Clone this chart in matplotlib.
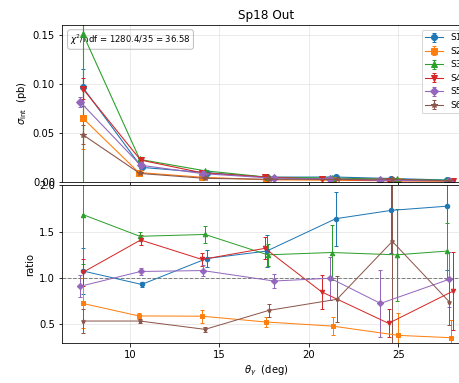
import matplotlib
matplotlib.use("Agg")
import matplotlib.pyplot as plt

# angle bins (deg), one slightly shifted set per series
theta_s1 = [7.37, 10.66, 14.30, 17.64, 21.50, 24.60, 27.70]
theta_s2 = [7.37, 10.50, 14.03, 17.58, 21.33, 25.00, 27.94]
theta_s3 = [7.37, 10.56, 14.20, 17.70, 21.27, 24.90, 27.70]
theta_s4 = [7.37, 10.60, 14.03, 17.55, 20.71, 24.45, 28.07]
theta_s5 = [7.23, 10.60, 14.08, 18.05, 21.20, 24.00, 27.83]
theta_s6 = [7.37, 10.56, 14.20, 17.77, 21.57, 24.66, 27.83]

# integrated cross section (pb)
sig_s1 = [0.0965, 0.0145, 0.0091, 0.0045, 0.0046, 0.0031, 0.0016]
sig_s2 = [0.0650, 0.0092, 0.0044, 0.0018, 0.0013, 0.0007, 0.0003]
sig_s3 = [0.1515, 0.0226, 0.0110, 0.0044, 0.0036, 0.0023, 0.0012]
sig_s4 = [0.0952, 0.0220, 0.0090, 0.0046, 0.0024, 0.0009, 0.0008]
sig_s5 = [0.0814, 0.0167, 0.0081, 0.0034, 0.0028, 0.0013, 0.0009]
sig_s6 = [0.0480, 0.0083, 0.0033, 0.0023, 0.0022, 0.0025, 0.0007]

sig_err_s1 = [0.019, 0.001, 0.0008, 0.0005, 0.0007, 0.0008, 0.0006]
sig_err_s2 = [0.032, 0.001, 0.0005, 0.0002, 0.0003, 0.0004, 0.0002]
sig_err_s3 = [0.170, 0.001, 0.0008, 0.0005, 0.0008, 0.0009, 0.0003]
sig_err_s4 = [0.011, 0.001, 0.0006, 0.0004, 0.0005, 0.0003, 0.0004]
sig_err_s5 = [0.005, 0.001, 0.0005, 0.0003, 0.0006, 0.0006, 0.0003]
sig_err_s6 = [0.010, 0.0005, 0.0003, 0.0003, 0.0006, 0.0020, 0.0003]

# ratio to reference
ratio_s1 = [1.076, 0.93, 1.21, 1.29, 1.64, 1.73, 1.775]
ratio_s2 = [0.725, 0.59, 0.587, 0.525, 0.48, 0.38, 0.355]
ratio_s3 = [1.685, 1.45, 1.47, 1.25, 1.275, 1.25, 1.29]
ratio_s4 = [1.06, 1.41, 1.20, 1.32, 0.85, 0.51, 0.86]
ratio_s5 = [0.91, 1.07, 1.08, 0.967, 0.997, 0.725, 0.985]
ratio_s6 = [0.535, 0.535, 0.445, 0.65, 0.77, 1.395, 0.745]

ratio_err_s1 = [0.25, 0.03, 0.09, 0.17, 0.29, 0.46, 0.69]
ratio_err_s2 = [0.27, 0.03, 0.07, 0.05, 0.10, 0.24, 0.19]
ratio_err_s3 = [0.53, 0.05, 0.09, 0.12, 0.30, 0.50, 0.30]
ratio_err_s4 = [0.15, 0.05, 0.07, 0.12, 0.18, 0.15, 0.42]
ratio_err_s5 = [0.12, 0.04, 0.06, 0.08, 0.23, 0.36, 0.30]
ratio_err_s6 = [0.13, 0.02, 0.03, 0.07, 0.25, 1.30, 0.25]

labels = ["S1", "S2", "S3", "S4", "S5", "S6"]
markers = ["o", "s", "^", "v", "D", "*"]
colors = ["C0", "C1", "C2", "C3", "C4", "C5"]

sig_ticks = [0.0, 0.05, 0.10, 0.15]
ratio_ticks = [0.5, 1.0, 1.5, 2.0]

thetas = [theta_s1, theta_s2, theta_s3, theta_s4, theta_s5, theta_s6]
sigmas = [sig_s1, sig_s2, sig_s3, sig_s4, sig_s5, sig_s6]
sig_errs = [sig_err_s1, sig_err_s2, sig_err_s3, sig_err_s4, sig_err_s5, sig_err_s6]
ratios = [ratio_s1, ratio_s2, ratio_s3, ratio_s4, ratio_s5, ratio_s6]
ratio_errs = [ratio_err_s1, ratio_err_s2, ratio_err_s3, ratio_err_s4, ratio_err_s5, ratio_err_s6]

fig = plt.figure(figsize=(459 / 72, 383 / 72), dpi=72)
ax_top = fig.add_axes([0.135, 0.526, 0.889, 0.408])
ax_bot = fig.add_axes([0.135, 0.105, 0.889, 0.411], sharex=ax_top)

for th, s, se, lab, m, c in zip(thetas, sigmas, sig_errs, labels, markers, colors):
    ax_top.errorbar(th, s, yerr=se, marker=m, color=c, label=lab, lw=1.1,
                    ms=6, capsize=2, elinewidth=1.1, ecolor=c)

for th, r, re, m, c in zip(thetas, ratios, ratio_errs, markers, colors):
    ax_bot.errorbar(th, r, yerr=re, marker=m, color=c, lw=1.0,
                    ms=4.5, capsize=2, elinewidth=1.0)

ax_bot.axhline(1.0, color="gray", ls="--", lw=1.0)

ax_top.set_ylim(0, 0.16)
ax_top.set_yticks(sig_ticks)
ax_top.set_xlim(6.21, 29.0)
ax_top.set_title("Sp18 Out", fontsize=12)
ax_top.set_ylabel(r"$\sigma_{\rm int}$  (pb)")
ax_top.grid(True, alpha=0.3)
ax_top.tick_params(labelbottom=False)
ax_top.text(0.02, 0.955, r"$\chi^2$/ndf = 1280.4/35 = 36.58", transform=ax_top.transAxes,
            fontsize=8.5, ha="left", va="top", zorder=1.5,
            bbox=dict(boxstyle="round", fc="white", ec="0.7", alpha=0.85))
ax_top.legend(loc="upper right", fontsize=9)

ax_bot.set_ylim(0.3, 2.0)
ax_bot.set_yticks(ratio_ticks)
ax_bot.set_ylabel("ratio")
ax_bot.set_xlabel(r"$\theta_\gamma$  (deg)")
ax_bot.grid(True, alpha=0.3)

fig.savefig("out.png", dpi=72)
